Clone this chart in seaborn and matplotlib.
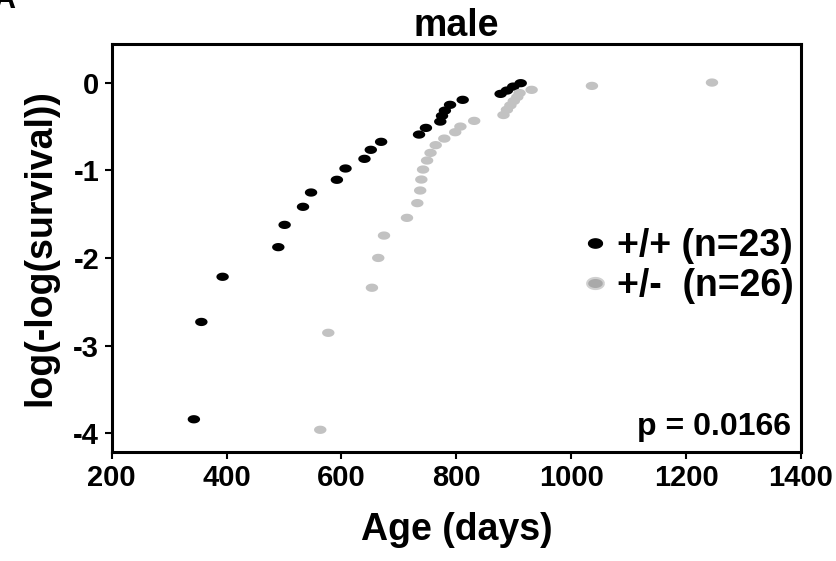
import numpy as np
import pandas as pd
import matplotlib
matplotlib.use('Agg')
import matplotlib.pyplot as plt
import seaborn as sns
from matplotlib.path import Path

# +/+ (n=23)
wt_age = [343, 356, 393, 490, 501, 533, 547, 592, 607, 640, 651, 669,
          735, 747, 772, 775, 780, 789, 811, 877, 888, 899, 912]
wt_val = [-3.84, -2.73, -2.215, -1.877, -1.623, -1.417, -1.254, -1.109, -0.98,
          -0.87, -0.767, -0.676, -0.593, -0.517, -0.445, -0.38, -0.32, -0.254,
          -0.197, -0.129, -0.091, -0.046, -0.007]

# +/- (n=26)
het_age = [563, 577, 653, 664, 674, 714, 732, 737, 739, 742, 749, 755, 764,
           779, 798, 807, 831, 882, 888, 894, 900, 906, 910, 931, 1036, 1245]
het_val = [-3.96, -2.854, -2.34, -2.0, -1.745, -1.543, -1.375, -1.231, -1.106,
           -0.992, -0.889, -0.802, -0.714, -0.639, -0.566, -0.502, -0.437,
           -0.37, -0.31, -0.26, -0.21, -0.165, -0.12, -0.083, -0.038, 0.0]

labels = ['+/+ (n=23)', '+/-  (n=26)']
x_ticks = [200, 400, 600, 800, 1000, 1200, 1400]
y_ticks = [0, -1, -2, -3, -4]

df = pd.DataFrame({
    'age': wt_age + het_age,
    'val': wt_val + het_val,
    'genotype': [labels[0]] * len(wt_age) + [labels[1]] * len(het_age),
})

sns.set_style('ticks')
plt.rcParams['font.family'] = ['Liberation Sans', 'DejaVu Sans']
plt.rcParams['font.weight'] = 'bold'
plt.rcParams['axes.unicode_minus'] = False
plt.rcParams['text.color'] = 'black'
plt.rcParams['axes.labelcolor'] = 'black'
plt.rcParams['xtick.color'] = 'black'
plt.rcParams['ytick.color'] = 'black'
plt.rcParams['axes.edgecolor'] = 'black'

# flat ellipse marker, dots in the figure are wider than tall
t = np.linspace(0, 2 * np.pi, 41)
ellipse = Path(np.column_stack([1.5 * np.cos(t), np.sin(t)]))

fig = plt.figure(figsize=(8.37, 5.61), dpi=100)
ax = fig.add_axes([0.1335, 0.1948, 0.957 - 0.1335, 0.9216 - 0.1948])

sns.scatterplot(data=df, x='age', y='val', hue='genotype',
                palette={labels[0]: 'black', labels[1]: '#c2c2c2'},
                marker=ellipse, s=80, linewidth=0, ax=ax, legend=False)

ax.set_xlim(200, 1400)
ax.set_ylim(-4.21, 0.44)
ax.set_xticks(x_ticks)
ax.set_yticks(y_ticks)
ax.tick_params(labelsize=21, width=1.5, length=5, direction='out', pad=4)
for lab in ax.get_xticklabels() + ax.get_yticklabels():
    lab.set_fontweight('bold')
for sp in ax.spines.values():
    sp.set_linewidth(2.2)
    sp.set_visible(True)

ax.set_title('male', fontsize=27, fontweight='bold', pad=3)
ax.set_xlabel('Age (days)', fontsize=27, fontweight='bold', labelpad=14)
ax.set_ylabel('log(-log(survival))', fontsize=27, fontweight='bold', labelpad=11)

# legend with manual handles
h1 = plt.Line2D([], [], ls='', marker=ellipse, markersize=10, color='black')
h2 = plt.Line2D([], [], ls='', marker=ellipse, markersize=12,
                markerfacecolor='#a9a9a9', markeredgecolor='#d0d0d0', markeredgewidth=1.5)
ax.legend([h1, h2], labels, loc='center right', bbox_to_anchor=(0.99, 0.455),
          frameon=False, handletextpad=0.35, handlelength=0.5, labelspacing=0.1,
          borderaxespad=0.0, borderpad=0.0, prop={'size': 27, 'weight': 'bold'})

ax.text(0.985, 0.025, 'p = 0.0166', transform=ax.transAxes, ha='right', va='bottom',
        fontsize=23, fontweight='bold')

fig.text(-0.008, 1.0, 'A', fontsize=22, fontweight='bold', ha='left', va='center')

fig.savefig('out.png', dpi=100)
